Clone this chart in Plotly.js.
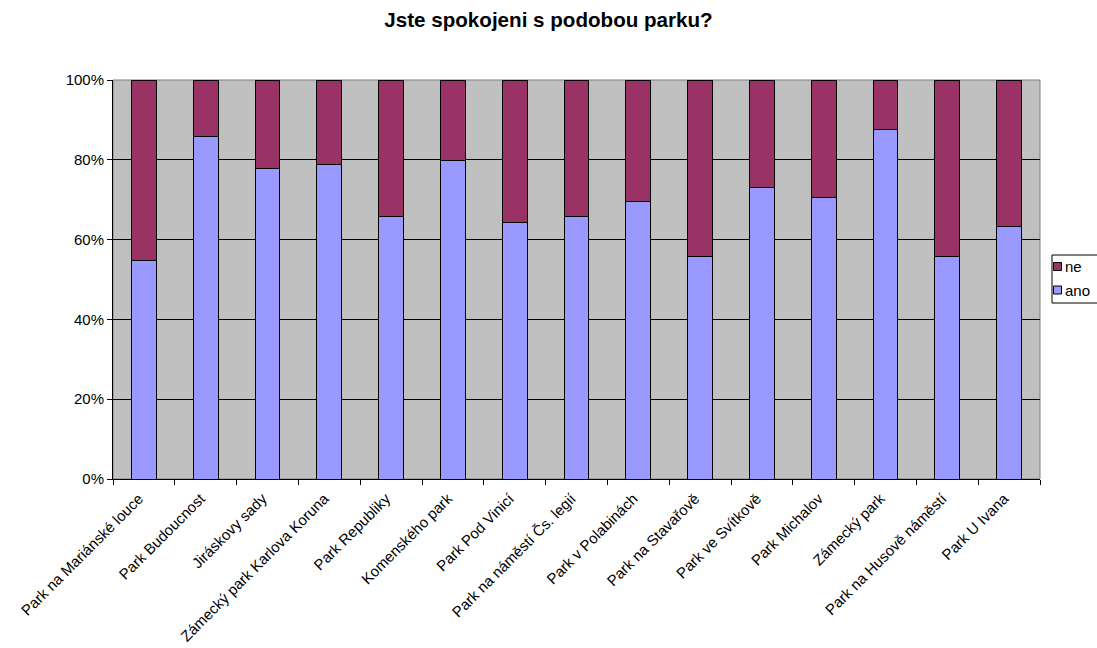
<!DOCTYPE html>
<html>
<head>
<meta charset="utf-8">
<script src="https://cdn.plot.ly/plotly-3.0.1.min.js"></script>
<style>html,body{margin:0;padding:0;background:#fff;}#chart{width:1097px;height:648px;}</style>
</head>
<body>
<div id="chart"></div>
<script>
const categories = [
  "Park na Mariánské louce", "Park Budoucnost", "Jiráskovy sady", "Zámecký park Karlova Koruna",
  "Park Republiky", "Komenského park", "Park Pod Vinicí", "Park na náměstí Čs. legií",
  "Park v Polabinách", "Park na Stavařově", "Park ve Svítkově", "Park Michalov",
  "Zámecký park", "Park na Husově náměstí", "Park U Ivana"
];
const ano = [54.7, 85.8, 77.8, 78.9, 65.9, 79.8, 64.4, 65.9, 69.6, 55.8, 73.1, 70.6, 87.6, 55.8, 63.2];
const ne  = [45.3, 14.2, 22.2, 21.1, 34.1, 20.2, 35.6, 34.1, 30.4, 44.2, 26.9, 29.4, 12.4, 44.2, 36.8];
const yTickVals = [0, 20, 40, 60, 80, 100];
const yTickText = ["0%", "20%", "40%", "60%", "80%", "100%"];
const seriesNames = ["ano", "ne"];
const seriesColors = ["#9999FF", "#993366"];

const FONT = "Liberation Sans, Arial, sans-serif";
const W = 1097, H = 648, ML = 113, MR = 57, MT = 80, MB = 169;
const PW = W - ML - MR, PH = H - MT - MB;
const px2x = p => (p - ML) / PW;
const px2y = p => (H - MB - p) / PH;

const traces = [
  {type: "bar", name: seriesNames[0], x: categories, y: ano,
   marker: {color: seriesColors[0], line: {color: "#000000", width: 1}}},
  {type: "bar", name: seriesNames[1], x: categories, y: ne,
   marker: {color: seriesColors[1], line: {color: "#000000", width: 1}}}
];

// custom legend (Excel style, partly outside the page on the right)
const shapes = [
  {type: "rect", xref: "paper", yref: "paper", x0: 0, x1: 1, y0: 0, y1: 1,
   line: {color: "#808080", width: 1}, fillcolor: "rgba(0,0,0,0)", layer: "below"},
  {type: "rect", xref: "paper", yref: "paper", x0: px2x(1052), x1: px2x(1120), y0: px2y(303), y1: px2y(255),
   line: {color: "#000", width: 1}, fillcolor: "#fff", layer: "above"}
];
const annotations = [];
const legendOrder = [1, 0];
legendOrder.forEach((k, i) => {
  const cy = 266.5 + i * 23.5;
  shapes.push({type: "rect", xref: "paper", yref: "paper",
    x0: px2x(1053.5), x1: px2x(1061.5), y0: px2y(cy + 4), y1: px2y(cy - 4),
    line: {color: "#000", width: 1}, fillcolor: seriesColors[k], layer: "above"});
  annotations.push({xref: "paper", yref: "paper", x: px2x(1063), y: px2y(cy), xanchor: "left", yanchor: "middle",
    text: seriesNames[k], showarrow: false, font: {family: FONT, size: 15, color: "#000"}});
});

const layout = {
  width: W, height: H,
  margin: {l: ML, r: MR, t: MT, b: MB, pad: 0, autoexpand: false},
  paper_bgcolor: "#ffffff",
  plot_bgcolor: "#C0C0C0",
  barmode: "stack",
  bargap: 0.6,
  showlegend: false,
  font: {family: FONT, size: 15, color: "#000"},
  title: {text: "<b>Jste spokojeni s podobou parku?</b>", font: {family: FONT, size: 20.6, color: "#000"},
          x: 0.5, xref: "container", xanchor: "center", y: 1 - 20/648, yref: "container", yanchor: "middle"},
  xaxis: {type: "category", tickangle: -45, tickson: "boundaries", ticks: "outside", ticklen: 5,
          tickcolor: "#000", showline: true, linecolor: "#000", linewidth: 1, showgrid: false,
          ticklabelstandoff: 4, ticklabelshift: -5,
          tickfont: {family: FONT, size: 15, color: "#000"}, fixedrange: true},
  yaxis: {range: [0, 100], tickvals: yTickVals, ticktext: yTickText, ticks: "outside", ticklen: 5,
          tickcolor: "#000", showline: true, linecolor: "#000", linewidth: 1,
          showgrid: true, gridcolor: "#000", gridwidth: 1, zeroline: false,
          tickfont: {family: FONT, size: 15, color: "#000"}, fixedrange: true},
  shapes: shapes,
  annotations: annotations
};
Plotly.newPlot("chart", traces, layout, {displayModeBar: false, staticPlot: true});
</script>
</body>
</html>
